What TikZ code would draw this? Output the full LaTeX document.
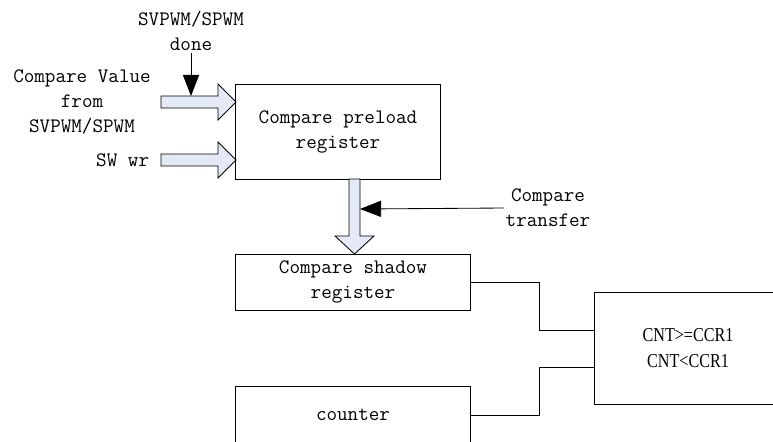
\documentclass[tikz,border=0pt]{standalone}
\usepackage{fontspec}
\newfontfamily\cntfont[FakeStretch=0.82]{Liberation Serif}
\usepackage{tikz}
\usetikzlibrary{arrows.meta,positioning,calc}
\definecolor{arrowfill}{RGB}{227,234,246}

\begin{document}
\begin{tikzpicture}[x=0.025cm, y=-0.025cm, line width=0.7pt,
    box/.style={draw, inner sep=0pt, align=center, font=\ttfamily\fontsize{14.6}{18}\selectfont},
    lbl/.style={inner sep=1pt, align=center, font=\ttfamily\fontsize{14.6}{18}\selectfont},
    fatarrow/.style={draw, fill=arrowfill, line width=0.6pt, line join=miter},
    sig/.style={line width=0.6pt, -{Triangle[length=15pt, width=11.5pt]}},
    wire/.style={draw, line width=0.6pt}]
    \useasboundingbox (0,0) rectangle (773,441);
    \clip (0,0) rectangle (773,441);
    % Registros
    \node[box, minimum width=5.1cm, minimum height=2.35cm] (preload) at (338,132) {Compare preload\\register};
    \node[box, minimum width=5.85cm, minimum height=1.4cm] (shadow) at (353,282) {Compare shadow\\register};
    \node[box, minimum width=5.85cm, minimum height=1.45cm] (counter) at (353,415) {counter};
    \node[box, minimum width=4.65cm, minimum height=2.8cm, font=\cntfont\fontsize{14}{18.4}\selectfont] (cmp) at (688,348) {CNT>=CCR1\\CNT<CCR1};
    % Rótulos de entrada
    \node[lbl] (done) at (191,31) {SVPWM/SPWM\\done};
    \node[lbl] (cvlabel) at (82,102) {Compare Value\\from\\SVPWM/SPWM};
    \node[lbl, anchor=east] (swlabel) at (151,160) {SW wr};
    \node[lbl] (transfer) at (548,208) {Compare\\transfer};
    % Setas largas de dados
    \foreach \y in {102,160}
        \filldraw[fatarrow] (161,\y-6) -- (218,\y-6) -- (218,\y-18) -- (236,\y)
            -- (218,\y+18) -- (218,\y+6) -- (161,\y+6) -- cycle;
    \filldraw[fatarrow] (349,179) -- (349,236) -- (335,236) -- (354.5,254)
        -- (374,236) -- (360,236) -- (360,179) -- cycle;
    % Sinais de controle
    \coordinate (cvtop) at (191,96);
    \coordinate (xfer) at (360,209);
    \draw[sig] (done.south) -- (cvtop);
    \draw[sig] (transfer.west) -- (xfer);
    % Ligações ao comparador
    \draw[wire] (shadow.east) -- ++(69,0) |- ($(cmp.west)+(0,-18)$);
    \draw[wire] (counter.east) -- ++(69,0) |- ($(cmp.west)+(0,19)$);
\end{tikzpicture}
\end{document}
